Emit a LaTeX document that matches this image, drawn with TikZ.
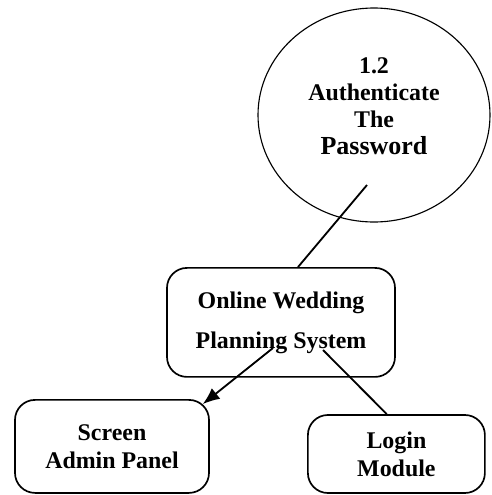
\documentclass[tikz,border=0pt]{standalone}
\usepackage{fontspec}
\setmainfont{Liberation Serif}
\usepackage{tikz}
\usetikzlibrary{calc,shapes,arrows,arrows.meta,positioning}

\begin{document}
\begin{tikzpicture}
          %% DFD NIVEAU 1
          \useasboundingbox (0,0) rectangle (12.3,-12.375);

          \tikzstyle{every node}=[font=\bfseries\fontsize{17}{20}\selectfont,align=center]
          \tikzstyle{flow}=[-,>={Latex[length=0.42cm,width=0.34cm]},line width=1.3pt,draw]
          \tikzstyle{proc}=[ellipse,draw,line width=0.8pt,inner sep=0pt,minimum width=5.8cm,minimum height=5.35cm]
          \tikzstyle{box}=[rectangle,rounded corners=0.5cm,draw,line width=1.2pt,inner sep=0pt]

          % processus
          \node[proc,label={[yshift=0.22cm,font=\bfseries\fontsize{17}{19.2}\selectfont]center:{1.2\\Authenticate\\The\\{\fontsize{18.5}{19.2}\selectfont Password}}}] (auth) at (9.35,-2.875) {};

          % systeme
          \node[box,minimum width=5.7cm,minimum height=2.725cm,font=\bfseries\fontsize{17}{28.5}\selectfont] (sys) at (7.025,-8.06) {Online Wedding\\Planning System};

          % entites
          \node[box,minimum width=4.85cm,minimum height=2.325cm] (screen) at (2.8,-11.16) {Screen\\Admin Panel};
          \node[box,minimum width=4.425cm,minimum height=1.95cm] (login) at (9.91,-11.35) {Login\\Module};

          % points libres
          \coordinate (a1) at ([xshift=-0.175cm,yshift=-1.75cm]auth.center);
          \coordinate (s1) at ([xshift=-0.2cm,yshift=-0.64cm]sys.center);
          \coordinate (s2) at ([xshift=1.05cm,yshift=-0.69cm]sys.center);

          % flux
          \path (a1) edge[flow] ([xshift=0.425cm]sys.north)
          (s1) edge[flow,->] ([xshift=-0.175cm,yshift=-0.125cm]screen.north east)
          (s2) edge[flow] ([xshift=-0.24cm]login.north);
        \end{tikzpicture}
\end{document}
